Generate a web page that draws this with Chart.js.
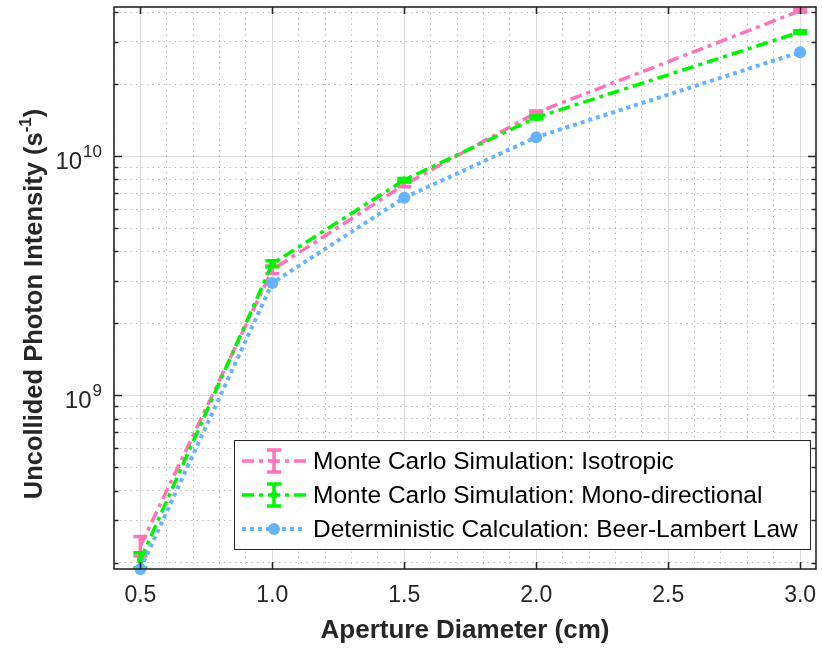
<!DOCTYPE html>
<html>
<head>
<meta charset="utf-8">
<script src="https://cdn.jsdelivr.net/npm/chart.js@4.4.1/dist/chart.umd.min.js"></script>
<style>
  html, body { margin: 0; padding: 0; background: #fff; }
</style>
</head>
<body>
<canvas id="mychart" width="822" height="650"></canvas>
<script>
// aperture diameters (cm)
var diameters = [0.5, 1.0, 1.5, 2.0, 3.0];
// Monte Carlo, isotropic source
var isoValues = [2.35e8, 3.35e9, 7.6e9, 1.52e10, 4.05e10];
var isoErrors = [0.22e8, 0.12e9, 0.15e9, 0.25e9, 0.6e9];
// Monte Carlo, mono-directional source
var monoValues = [2.05e8, 3.55e9, 7.95e9, 1.45e10, 3.3e10];
var monoErrors = [0.15e8, 0.1e9, 0.12e9, 0.2e9, 0.4e9];
// Beer-Lambert law
var blValues = [1.88e8, 2.95e9, 6.7e9, 1.2e10, 2.72e10];

var xTicks = [];
for (var k = 4; k <= 30; k++) xTicks.push(k / 10);
var yTicks = [2e8, 3e8, 4e8, 5e8, 6e8, 7e8, 8e8, 9e8,
              1e9, 2e9, 3e9, 4e9, 5e9, 6e9, 7e9, 8e9, 9e9,
              1e10, 2e10, 3e10, 4e10];
var yLabelValues = [1e9, 1e10];

var labels = [
  'Monte Carlo Simulation: Isotropic',
  'Monte Carlo Simulation: Mono-directional',
  'Deterministic Calculation: Beer-Lambert Law'
];

var pink = '#ff73b9', green = '#00f500', blue = '#66b3ff';
var axisColor = '#262626';
var fontFam = '"Liberation Sans", Arial, Helvetica, sans-serif';

function pts(vals) {
  return diameters.map(function(x, i) { return {x: x, y: vals[i]}; });
}
function isHalf(v) { return Math.abs(v * 2 - Math.round(v * 2)) < 1e-6; }
function isDecade(v) { var l = Math.log10(v); return Math.abs(l - Math.round(l)) < 1e-6; }

var extras = {
  id: 'extras',
  afterDatasetDraw: function(chart, args) {
    var ds = chart.data.datasets[args.index];
    if (!ds.errors) return;
    var ctx = chart.ctx, xs = chart.scales.x, ys = chart.scales.y;
    ctx.save();
    ctx.strokeStyle = ds.borderColor;
    ctx.lineWidth = 3.5;
    ctx.setLineDash([]);
    ds.data.forEach(function(p, i) {
      var px = xs.getPixelForValue(p.x);
      var y1 = ys.getPixelForValue(p.y - ds.errors[i]);
      var y2 = ys.getPixelForValue(p.y + ds.errors[i]);
      ctx.beginPath();
      ctx.moveTo(px, y1); ctx.lineTo(px, y2);
      ctx.moveTo(px - 7, y1); ctx.lineTo(px + 7, y1);
      ctx.moveTo(px - 7, y2); ctx.lineTo(px + 7, y2);
      ctx.stroke();
    });
    ctx.restore();
  },
  afterDraw: function(chart) {
    var ctx = chart.ctx, a = chart.chartArea;
    var xs = chart.scales.x, ys = chart.scales.y;
    ctx.save();
    // box and inward ticks
    ctx.strokeStyle = axisColor;
    ctx.lineWidth = 1.6;
    ctx.setLineDash([]);
    ctx.strokeRect(a.left, a.top, a.right - a.left, a.bottom - a.top);
    ctx.beginPath();
    xTicks.forEach(function(v) {
      if (!isHalf(v)) return;
      var px = Math.round(xs.getPixelForValue(v)) + 0.5;
      ctx.moveTo(px, a.bottom); ctx.lineTo(px, a.bottom - 7);
      ctx.moveTo(px, a.top); ctx.lineTo(px, a.top + 7);
    });
    yTicks.forEach(function(v) {
      var py = Math.round(ys.getPixelForValue(v)) + 0.5;
      var len = isDecade(v) ? 8 : 4.5;
      ctx.moveTo(a.left, py); ctx.lineTo(a.left + len, py);
      ctx.moveTo(a.right, py); ctx.lineTo(a.right - len, py);
    });
    ctx.stroke();

    // y tick labels 10^n
    ctx.fillStyle = axisColor;
    ctx.textBaseline = 'alphabetic';
    yLabelValues.forEach(function(v) {
      var py = ys.getPixelForValue(v);
      var exp = String(Math.round(Math.log10(v)));
      ctx.font = '17px ' + fontFam;
      ctx.textAlign = 'right';
      var ew = ctx.measureText(exp).width;
      ctx.fillText(exp, 102, py + 1);
      ctx.font = '24px ' + fontFam;
      ctx.fillText('10', 102 - ew - 1, py + 13);
    });

    // y axis title with superscript
    ctx.translate(42, 304);
    ctx.rotate(-Math.PI / 2);
    ctx.textAlign = 'left';
    var main = 'Uncollided Photon Intensity (s', sup = '-1', close = ')';
    ctx.font = 'bold 25.5px ' + fontFam;
    var w1 = ctx.measureText(main).width, w3 = ctx.measureText(close).width;
    ctx.font = 'bold 17px ' + fontFam;
    var w2 = ctx.measureText(sup).width;
    var sx = -(w1 + w2 + w3) / 2;
    ctx.font = 'bold 25.5px ' + fontFam;
    ctx.fillText(main, sx, 0);
    ctx.font = 'bold 17px ' + fontFam;
    ctx.fillText(sup, sx + w1, -11);
    ctx.font = 'bold 25.5px ' + fontFam;
    ctx.fillText(close, sx + w1 + w2, 0);
    ctx.setTransform(1, 0, 0, 1, 0, 0);

    // legend
    var bx = 234, by = 440, bw = 576, bh = 109;
    ctx.fillStyle = '#fff';
    ctx.fillRect(bx, by, bw, bh);
    ctx.strokeStyle = axisColor;
    ctx.lineWidth = 1;
    ctx.strokeRect(bx + 0.5, by + 0.5, bw, bh);
    var rows = [461, 495, 529];
    chart.data.datasets.forEach(function(ds, i) {
      var ry = rows[i];
      ctx.strokeStyle = ds.borderColor;
      ctx.lineWidth = ds.borderWidth;
      ctx.setLineDash(ds.borderDash);
      ctx.beginPath();
      ctx.moveTo(242, ry); ctx.lineTo(306, ry);
      ctx.stroke();
      ctx.setLineDash([]);
      if (ds.errors) {
        ctx.lineWidth = 3.5;
        ctx.beginPath();
        ctx.moveTo(274, ry - 11); ctx.lineTo(274, ry + 11);
        ctx.moveTo(267, ry - 11); ctx.lineTo(281, ry - 11);
        ctx.moveTo(267, ry + 11); ctx.lineTo(281, ry + 11);
        ctx.stroke();
      }
      if (ds.pointRadius > 0) {
        ctx.fillStyle = ds.borderColor;
        ctx.beginPath();
        ctx.arc(274, ry, ds.pointRadius, 0, Math.PI * 2);
        ctx.fill();
      }
      ctx.fillStyle = '#000';
      ctx.font = '24.5px ' + fontFam;
      ctx.textAlign = 'left';
      ctx.textBaseline = 'middle';
      ctx.fillText(labels[i], 313, ry + 1);
    });
    ctx.restore();
  }
};

var ctx = document.getElementById('mychart');
var myChart = new Chart(ctx, {
  type: 'line',
  data: {
    datasets: [{
      label: labels[0],
      data: pts(isoValues),
      errors: isoErrors,
      borderColor: pink,
      borderWidth: 3.5,
      borderDash: [12, 5, 4, 5],
      pointRadius: 0,
      fill: false,
      clip: false,
      order: 3
    }, {
      label: labels[1],
      data: pts(monoValues),
      errors: monoErrors,
      borderColor: green,
      borderWidth: 3.5,
      borderDash: [12, 5, 4, 5],
      pointRadius: 3.5,
      pointBackgroundColor: green,
      pointBorderWidth: 0,
      fill: false,
      clip: false,
      order: 2
    }, {
      label: labels[2],
      data: pts(blValues),
      borderColor: blue,
      borderWidth: 4,
      borderDash: [4, 4],
      pointRadius: 6,
      pointBackgroundColor: blue,
      pointBorderWidth: 0,
      fill: false,
      clip: false,
      order: 1
    }]
  },
  options: {
    responsive: false,
    animation: false,
    layout: { padding: { left: 0, top: 7, right: 3, bottom: 0 } },
    plugins: { legend: { display: false }, tooltip: { enabled: false } },
    scales: {
      x: {
        type: 'linear',
        min: 0.4,
        max: 3.06,
        afterBuildTicks: function(s) {
          s.ticks = xTicks.map(function(v) { return {value: v}; });
        },
        afterFit: function(s) {
          s.height = 81;
          s.paddingLeft = 0;
          s.paddingRight = 0;
        },
        ticks: {
          autoSkip: false,
          maxRotation: 0,
          padding: 13,
          color: axisColor,
          font: { family: fontFam, size: 23 },
          callback: function(v) { return isHalf(v) ? v.toFixed(1) : ''; }
        },
        grid: {
          drawTicks: false,
          lineWidth: 1,
          color: function(c) {
            if (!c.tick) return 'rgba(0,0,0,0)';
            return isHalf(c.tick.value) ? 'rgba(0,0,0,0.13)' : 'rgba(0,0,0,0.26)';
          }
        },
        border: {
          display: false,
          dash: function(c) { return c.tick && !isHalf(c.tick.value) ? [1.5, 4] : []; }
        },
        title: {
          display: true,
          text: 'Aperture Diameter (cm)',
          color: axisColor,
          font: { family: fontFam, size: 26, weight: 'bold' },
          padding: { top: 0, bottom: 4 }
        }
      },
      y: {
        type: 'logarithmic',
        min: 1.88e8,
        max: 4.2e10,
        afterBuildTicks: function(s) {
          s.ticks = yTicks.map(function(v) { return {value: v}; });
        },
        afterFit: function(s) {
          s.width = 114;
          s.paddingTop = 0;
          s.paddingBottom = 0;
        },
        ticks: { callback: function() { return ''; } },
        grid: {
          drawTicks: false,
          lineWidth: 1,
          color: function(c) {
            if (!c.tick) return 'rgba(0,0,0,0)';
            return isDecade(c.tick.value) ? 'rgba(0,0,0,0.13)' : 'rgba(0,0,0,0.26)';
          }
        },
        border: {
          display: false,
          dash: function(c) { return c.tick && !isDecade(c.tick.value) ? [1.5, 4] : []; }
        }
      }
    }
  },
  plugins: [extras]
});
</script>
</body>
</html>
